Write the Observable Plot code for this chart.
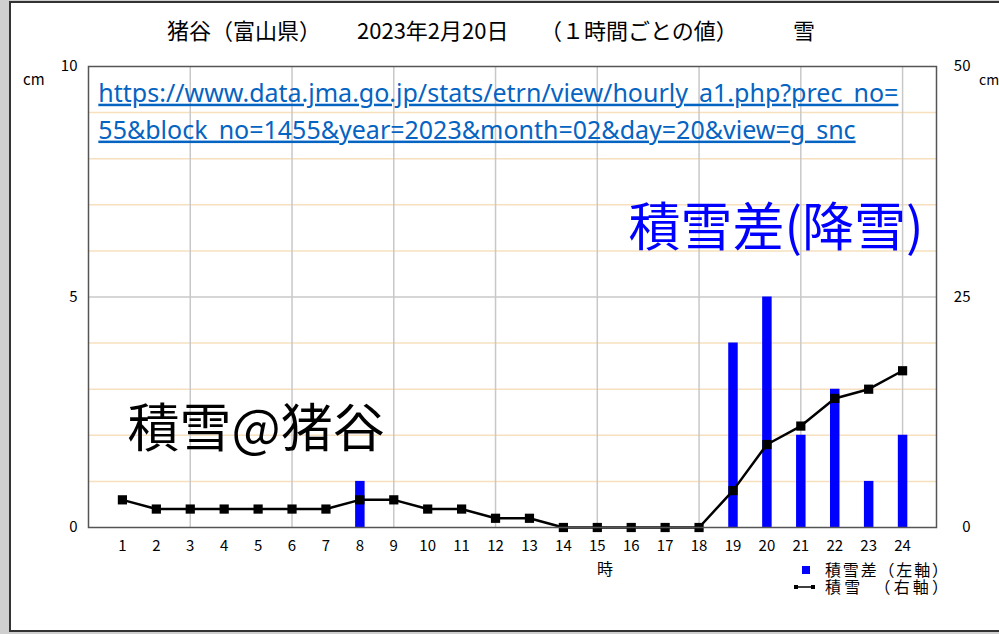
<!DOCTYPE html>
<html><head><meta charset="utf-8">
<script src="https://cdn.jsdelivr.net/npm/d3@7"></script>
<script src="https://cdn.jsdelivr.net/npm/@observablehq/plot@0.6"></script>
<style>
html,body{margin:0;padding:0;background:#cfcfcf;overflow:hidden;}
#chart{position:relative;width:999px;height:634px;}
#chart svg{display:block;}
</style></head><body><div id="chart"></div>
<script>
// ---- data ----
const hours = [1,2,3,4,5,6,7,8,9,10,11,12,13,14,15,16,17,18,19,20,21,22,23,24];
const snowDiff = [0,0,0,0,0,0,0,1,0,0,0,0,0,0,0,0,0,0,4,5,2,3,1,2];          // 積雪差 (left axis, cm)
const snowDepth = [3,2,2,2,2,2,2,3,3,2,2,1,1,0,0,0,0,0,4,9,11,14,15,17];    // 積雪 (right axis, cm)
const leftTicks = [0,5,10];
const rightTicks = [0,25,50];
const minorGrid = [1,2,3,4,6,7,8,9];
const majorGrid = [5];
const hourGrid = [3,6,9,12,15,18,21,24];
const titleParts = ["猪谷（富山県）", "2023年2月20日", "（１時間ごとの値）", "雪"];
const urlLines = ["https://www.data.jma.go.jp/stats/etrn/view/hourly_a1.php?prec_no=",
                  "55&block_no=1455&year=2023&month=02&day=20&view=g_snc"];
const legendItems = ["積雪差（左軸）", "積雪　（右軸）"];

const ratio = leftTicks[2] / rightTicks[2];
const rows = hours.map((h, i) => ({hour: h, diff: snowDiff[i], depth: snowDepth[i] * ratio}));

const cjk = "'Noto Sans CJK JP', 'Noto Sans', sans-serif";

const chart = Plot.plot({
  width: 999, height: 634,
  marginLeft: 88, marginRight: 63, marginTop: 66, marginBottom: 107,
  style: {fontFamily: cjk, fontSize: "15px", color: "#000", background: "transparent", overflow: "visible"},
  x: {domain: [0, 25], axis: null},
  y: {domain: [0, 10], axis: null},
  marks: [
    Plot.ruleY(minorGrid, {stroke: "#f6e0bd", strokeWidth: 1.5}),
    Plot.ruleY(majorGrid, {stroke: "#c8c8c8", strokeWidth: 1.5}),
    Plot.ruleX(hourGrid, {stroke: "#c8c8c8", strokeWidth: 1.5}),
    Plot.axisY({ticks: leftTicks, tickSize: 0, tickPadding: 11, label: null, fontSize: 15}),
    Plot.axisY({anchor: "right", ticks: leftTicks, tickFormat: d => d / ratio, tickSize: 0, tickPadding: 34, textAnchor: "end", label: null, fontSize: 15}),
    Plot.axisX({ticks: hours, tickSize: 0, tickPadding: 13, label: null, fontSize: 15}),
    Plot.ruleX(rows, {x: "hour", y1: 0, y2: "diff", stroke: "#0000ff", strokeWidth: 9.5}),
    Plot.line(rows, {x: "hour", y: "depth", stroke: "#000", strokeWidth: 2.5}),
    Plot.dot(rows, {x: "hour", y: "depth", symbol: "square", r: 5.2, fill: "#000", stroke: "none"}),
    Plot.frame({stroke: "#555", strokeWidth: 1.5}),
    Plot.text([urlLines[0]], {x: 0.29, y: 9.41, text: d => d, textAnchor: "start", fontSize: 25, fill: "#0563c1", fontFamily: "'Noto Sans', sans-serif"}),
    Plot.text([urlLines[1]], {x: 0.29, y: 8.61, text: d => d, textAnchor: "start", fontSize: 25, fill: "#0563c1", fontFamily: "'Noto Sans', sans-serif"}),
    Plot.text(["積雪差(降雪)"], {x: 15.92, y: 6.46, text: d => d, textAnchor: "start", fontSize: 52, fill: "#0000ff", fontFamily: cjk}),
    Plot.text(["積雪@猪谷"], {x: 1.15, y: 2.1, text: d => d, textAnchor: "start", fontSize: 52, fill: "#000", fontFamily: cjk})
  ]
});

const svg = d3.select(chart);
// page border
svg.insert("rect", ":first-child").attr("x", 10).attr("y", 2).attr("width", 995).attr("height", 629)
  .attr("fill", "#fff").attr("stroke", "#333").attr("stroke-width", 2);
// underline URL
svg.selectAll("text").filter(function(){ return urlLines.includes(d3.select(this).text()); })
  .style("text-decoration", "underline");
// title (parts spaced as in the original)
const titleX = [167, 357, 540, 793];
const tt = svg.append("text").attr("y", 39).attr("text-anchor", "start")
  .attr("font-family", cjk).attr("font-size", 22).attr("fill", "#000");
titleParts.forEach((p, i) => tt.append("tspan").attr("x", titleX[i]).text(p));
// unit labels
svg.append("text").attr("x", 23).attr("y", 85).attr("text-anchor", "start").attr("font-family", cjk).attr("font-size", 15).text("cm");
svg.append("text").attr("x", 979).attr("y", 85).attr("text-anchor", "start").attr("font-family", cjk).attr("font-size", 14).text("cm");
// x axis title
svg.append("text").attr("x", 605).attr("y", 575).attr("text-anchor", "middle").attr("font-family", cjk).attr("font-size", 16).text("時");
// legend
const lg = svg.append("g").attr("font-family", cjk).attr("font-size", 16).attr("text-anchor", "start");
lg.append("rect").attr("x", 802).attr("y", 566).attr("width", 8).attr("height", 8).attr("fill", "#0000ff");
lg.append("text").attr("x", 825).attr("y", 576).attr("textLength", 123).attr("lengthAdjust", "spacing").text(legendItems[0]);
lg.append("line").attr("x1", 796).attr("x2", 813).attr("y1", 587).attr("y2", 587).attr("stroke", "#000").attr("stroke-width", 1.5);
lg.append("rect").attr("x", 794).attr("y", 585).attr("width", 4).attr("height", 4).attr("fill", "#000");
lg.append("rect").attr("x", 811).attr("y", 585).attr("width", 4).attr("height", 4).attr("fill", "#000");
lg.append("text").attr("x", 825).attr("y", 593).attr("textLength", 123).attr("lengthAdjust", "spacing").text(legendItems[1]);

document.getElementById("chart").appendChild(chart);
</script>
</body></html>
